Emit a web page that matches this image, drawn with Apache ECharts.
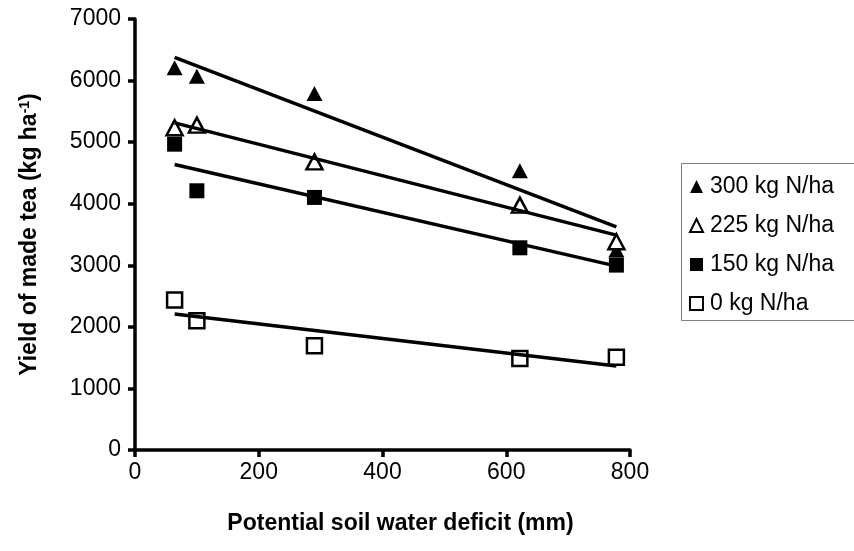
<!DOCTYPE html>
<html>
<head>
<meta charset="utf-8">
<script src="https://cdn.jsdelivr.net/npm/echarts@6/dist/echarts.min.js"></script>
<style>
  html, body { margin: 0; padding: 0; background: #fff; }
  #main { width: 854px; height: 551px; }
</style>
</head>
<body>
<div id="main"></div>
<script>
// soil water deficit (mm) for each site
var deficit = [64, 100, 290, 622, 778];
// yield of made tea (kg/ha) by nitrogen rate
var n300 = [6210, 6070, 5790, 4534, 3250];
var n225 = [5235, 5276, 4680, 3977, 3382];
var n150 = [4967, 4210, 4102, 3284, 3003];
var n0 = [2435, 2099, 1693, 1488, 1505];
// fitted trend lines, value at first and last deficit
var trendX = [64, 778];
var trend300 = [6375, 3625];
var trend225 = [5313, 3490];
var trend150 = [4638, 2987];
var trend0 = [2208, 1364];
var names = ['300 kg N/ha', '225 kg N/ha', '150 kg N/ha', '0 kg N/ha'];

function pts(ys) {
  return deficit.map(function (x, i) { return [x, ys[i]]; });
}
function trend(ys) {
  return trendX.map(function (x, i) { return [x, ys[i]]; });
}

var font = 'Liberation Sans, Arial, sans-serif';
var myChart = echarts.init(document.getElementById('main'));

function scat(name, ys, symbol, filled) {
  return {
    name: name,
    type: 'scatter',
    data: pts(ys),
    symbol: symbol,
    symbolSize: symbol === 'triangle' ? [16, 15] : 15,
    itemStyle: {
      color: filled ? '#000' : '#fff',
      borderColor: '#000',
      borderWidth: filled ? 0 : 2.5,
      opacity: 1
    },
    z: 3
  };
}
function line(ys) {
  return {
    type: 'line',
    data: trend(ys),
    symbol: 'none',
    lineStyle: { color: '#000', width: 3.5 },
    silent: true,
    z: 4
  };
}

var option = {
  animation: false,
  textStyle: { fontFamily: font },
  grid: { left: 135, right: 224, top: 19, bottom: 101 },
  // legend frame runs off the right edge, as in the original
  graphic: [{
    type: 'polyline',
    shape: { points: [[900, 163.5], [681.5, 163.5], [681.5, 320.5], [900, 320.5]] },
    style: { fill: null, stroke: '#808080', lineWidth: 1 },
    z: 1
  }],
  legend: {
    data: names,
    orient: 'vertical',
    left: 681,
    top: 163,
    padding: [12, 0, 12, 8],
    itemGap: 16,
    itemWidth: 13,
    itemHeight: 13,
    textStyle: { fontSize: 23, color: '#000', fontFamily: font, padding: [0, 0, 0, 2] }
  },
  xAxis: {
    type: 'value',
    min: 0,
    max: 800,
    interval: 200,
    name: 'Potential soil water deficit (mm)',
    nameLocation: 'middle',
    nameGap: 62,
    nameTextStyle: { fontSize: 23, fontWeight: 'bold', color: '#000', padding: [0, 0, 0, 36] },
    axisLine: { lineStyle: { color: '#000', width: 3.5 } },
    axisTick: { inside: false, length: 7, lineStyle: { color: '#000', width: 3.5 } },
    axisLabel: { fontSize: 23, color: '#000', margin: 11 },
    splitLine: { show: false }
  },
  yAxis: {
    type: 'value',
    min: 0,
    max: 7000,
    interval: 1000,
    name: 'Yield of made tea (kg ha{sup|-1})',
    nameLocation: 'middle',
    nameRotate: 90,
    nameGap: 94,
    nameTextStyle: {
      fontSize: 23, fontWeight: 'bold', color: '#000',
      rich: { sup: { fontSize: 14, fontWeight: 'bold', color: '#000', verticalAlign: 'top', padding: [0, 0, 9, 0] } }
    },
    axisLine: { show: true, lineStyle: { color: '#000', width: 3.5 } },
    axisTick: { show: true, length: 7, lineStyle: { color: '#000', width: 3.5 } },
    axisLabel: {
      fontSize: 23, color: '#000', margin: 14,
      formatter: function (v) { return String(v); }
    },
    splitLine: { show: false }
  },
  series: [
    scat(names[0], n300, 'triangle', true),
    scat(names[1], n225, 'triangle', false),
    scat(names[2], n150, 'rect', true),
    scat(names[3], n0, 'rect', false),
    line(trend300),
    line(trend225),
    line(trend150),
    line(trend0)
  ]
};
myChart.setOption(option);
</script>
</body>
</html>
